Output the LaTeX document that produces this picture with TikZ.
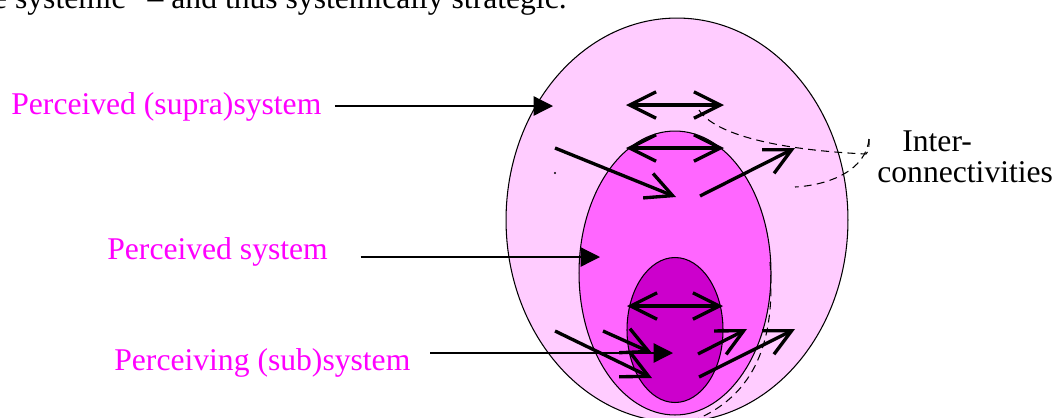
\documentclass[tikz,border=0pt]{standalone}
\usepackage{fontspec}
\setmainfont{Liberation Serif}
\usetikzlibrary{arrows.meta,shapes.geometric}

\definecolor{supracol}{HTML}{FFCCFF}
\definecolor{syscol}{HTML}{FF66FF}
\definecolor{subcol}{HTML}{CC00CC}
\definecolor{namecol}{HTML}{FF00FF}

\tikzset{
  oval/.style={ellipse, draw, line width=0.6pt, inner sep=0pt},
  plabel/.style={text=namecol, font=\fontsize{18}{22}\selectfont, inner sep=0pt, anchor=base west},
  pointer/.style={line width=0.7pt, -{Triangle[length=11pt,width=11pt]}},
  link/.style={line width=1.9pt, -{Straight Barb[length=15pt,width=15pt]}},
  twoway/.style={line width=1.9pt, {Straight Barb[length=15pt,width=15pt]}-{Straight Barb[length=15pt,width=15pt]}},
  interlink/.style={dash pattern=on 4.5pt off 3pt, line width=0.6pt},
}

\begin{document}
\begin{tikzpicture}[x=0.02cm, y=-0.02cm]
    \useasboundingbox (0,0) rectangle (1058,417);

    % line of text above the figure
    \node[anchor=base east, inner sep=0pt, font=\fontsize{18}{22}\selectfont] (prose) at (567,8) {ve systemic” – and thus systemically strategic.};

    % nested systems
    \node[oval, fill=supracol, minimum width=6.84cm, minimum height=8.08cm] (outer) at (677,220) {};
    \node[oval, fill=syscol, minimum width=3.84cm, minimum height=5.68cm] (mid) at (675,273) {};
    \node[oval, fill=subcol, minimum width=1.92cm, minimum height=2.9cm] (inner) at (675,330) {};
    \draw[interlink] (770,262) .. controls (775,330) and (762,392) .. (695,420);

    % interconnectivities in the (supra)system
    \draw[twoway] (626,105) -- (724,105);
    \draw[twoway] (626,148) -- (724,148);
    \draw[link] (555,148) -- (676,197);
    \draw[link] (700,196) -- (795,148);
    \fill (555,173) circle (1.2);

    % interconnectivities in the (sub)system
    \draw[twoway] (627,306) -- (723,306);
    \draw[link] (603,331) -- (652,353);
    \draw[link] (555,331) -- (652,378);
    \draw[link] (698,354) -- (747,329);
    \draw[link] (699,377) -- (795,329);

    % labels and pointers
    \node[plabel] (supra) at (11,114) {Perceived (supra)system};
    \node[plabel] (system) at (107,259) {Perceived system};
    \node[plabel] (sub) at (114,370) {Perceiving (sub)system};
    \coordinate (supratip) at (553,106);
    \coordinate (systemtip) at (600,257);
    \coordinate (subtip) at (673,353);
    \draw[pointer, shorten <=7.5pt] (supra.east |- supratip) -- (supratip);
    \draw[pointer, shorten <=18.5pt] (system.east |- systemtip) -- (systemtip);
    \draw[pointer, shorten <=11pt] (sub.east |- subtip) -- (subtip);

    % Inter-connectivities
    \node[anchor=base west, inner sep=0pt, font=\fontsize{18}{22}\selectfont] (inter) at (902,151) {Inter-};
    \node[anchor=base west, inner sep=0pt, font=\fontsize{18}{22}\selectfont] (connect) at (877,182) {connectivities};
    \coordinate (hookA) at (699,110);
    \coordinate (hookB) at (795,187);
    \coordinate (hookC) at (869,139);
    \draw[interlink] (hookA) .. controls (715,135) and (780,150) .. (866,154) .. controls (869,150) .. (hookC);
    \draw[interlink] (hookC) .. controls (866,170) and (830,185) .. (hookB);
\end{tikzpicture}
\end{document}
